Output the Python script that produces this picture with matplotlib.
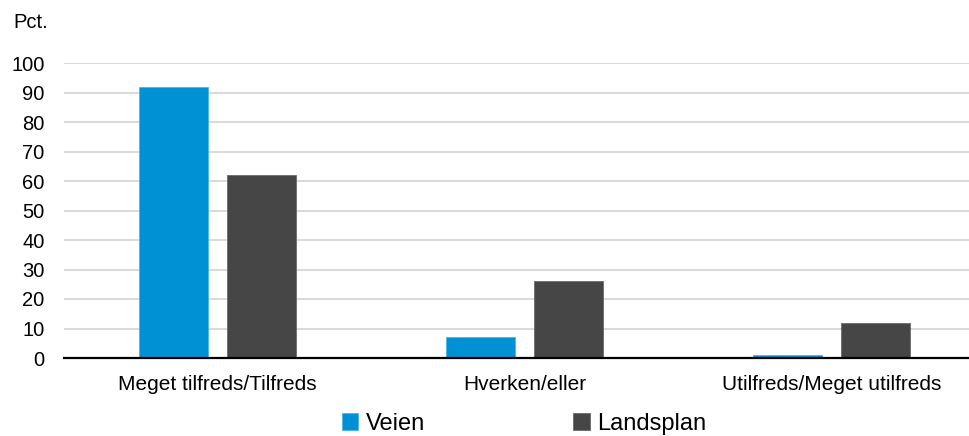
import numpy as np
import matplotlib.pyplot as plt

plt.rcParams['font.family'] = ['Liberation Sans', 'DejaVu Sans']

# Data
categories = ["Meget tilfreds/Tilfreds", "Hverken/eller", "Utilfreds/Meget utilfreds"]
veien = [92, 7, 1]
landsplan = [62, 26, 12]

fig = plt.figure(figsize=(9.7, 4.36), dpi=100)
ax = fig.add_axes([64 / 970, 1 - 358 / 436, 921 / 970, 295 / 436])

x = np.arange(len(categories))
w = 0.222
off = 0.1433
ax.bar(x - off, veien, w, color="#0090d4", edgecolor="#4fb3e6", linewidth=0.6,
       label="Veien", zorder=3)
ax.bar(x + off, landsplan, w, color="#464646", edgecolor="#6a6a6a", linewidth=0.6,
       label="Landsplan", zorder=3)

ax.set_xlim(-0.5, 2.5)
ax.set_ylim(0, 100)
ax.set_yticks(range(0, 101, 10))
ax.set_xticks(x)
ax.set_xticklabels(categories, fontsize=15)
ax.tick_params(axis="y", length=0, pad=14, labelsize=14.5)
ax.tick_params(axis="x", length=0, pad=12)

ax.grid(axis="y", color="#d0d0d0", linewidth=1.1, zorder=0)
for s in ["top", "right", "left"]:
    ax.spines[s].set_visible(False)
ax.spines["bottom"].set_linewidth(1.6)
ax.spines["bottom"].set_zorder(4)

fig.text(13 / 970, 1 - 23 / 436, "Pct.", fontsize=14.5, va="center", ha="left")

fig.legend(loc="center", bbox_to_anchor=(524 / 970, 1 - 424 / 436), ncol=2,
           frameon=False, fontsize=17, handlelength=0.7, handleheight=0.7,
           handletextpad=0.3, columnspacing=6.3)

fig.savefig("out.png", dpi=100)
